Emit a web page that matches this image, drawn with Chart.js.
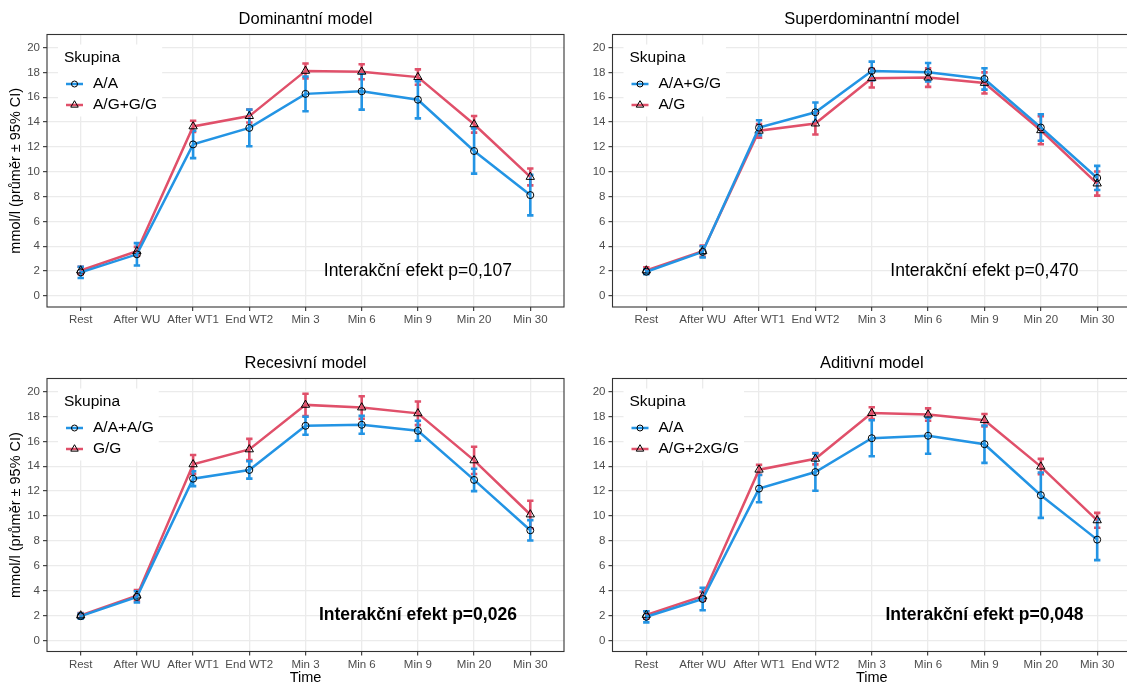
<!DOCTYPE html>
<html>
<head>
<meta charset="utf-8">
<script src="https://cdn.jsdelivr.net/npm/chart.js@4.4.1/dist/chart.umd.min.js"></script>
<style>
  html, body { margin: 0; padding: 0; background: #fff; width: 1127px; height: 682px; overflow: hidden; }
  canvas { position: absolute; }
</style>
</head>
<body>
<canvas id="dom" width="570" height="330" style="left:0;top:0"></canvas>
<canvas id="sup" width="574" height="330" style="left:563px;top:0"></canvas>
<canvas id="rec" width="570" height="347" style="left:0;top:340px"></canvas>
<canvas id="add" width="574" height="347" style="left:563px;top:340px"></canvas>
<script>
// categories and axis ticks
var timeLabels = ["Rest", "After WU", "After WT1", "End WT2", "Min 3", "Min 6", "Min 9", "Min 20", "Min 30"];
var yTickValues = [0, 1, 2, 3, 4, 5, 6, 7, 8, 9, 10, 11, 12, 13, 14, 15, 16, 17, 18, 19, 20];

// Dominantní model
var domAA = [1.9, 3.35, 12.2, 13.53, 16.27, 16.48, 15.8, 11.67, 8.12];
var domAAci = [0.45, 0.9, 1.1, 1.48, 1.4, 1.48, 1.5, 1.82, 1.63];
var domAGGG = [2.05, 3.6, 13.65, 14.48, 18.12, 18.05, 17.62, 13.82, 9.58];
var domAGGGci = [0.3, 0.35, 0.45, 0.52, 0.6, 0.6, 0.62, 0.67, 0.68];

// Superdominantní model
var supAAGG = [1.95, 3.55, 13.55, 14.79, 18.12, 18.01, 17.47, 13.56, 9.5];
var supAAGGci = [0.2, 0.45, 0.6, 0.78, 0.75, 0.75, 0.86, 1.07, 0.97];
var supAG = [2.05, 3.6, 13.3, 13.88, 17.53, 17.58, 17.15, 13.34, 9.05];
var supAGci = [0.25, 0.45, 0.55, 0.88, 0.75, 0.75, 0.85, 1.13, 0.97];

// Recesivní model
var recAAAG = [1.95, 3.5, 13.0, 13.7, 17.25, 17.33, 16.85, 12.9, 8.85];
var recAAAGci = [0.2, 0.45, 0.6, 0.7, 0.72, 0.72, 0.8, 0.9, 0.82];
var recGG = [2.0, 3.6, 14.15, 15.35, 18.93, 18.72, 18.25, 14.47, 10.12];
var recGGci = [0.2, 0.45, 0.75, 0.85, 0.9, 0.9, 0.95, 1.1, 1.1];

// Aditivní model
var addAA = [1.9, 3.33, 12.2, 13.53, 16.25, 16.45, 15.77, 11.67, 8.1];
var addAAci = [0.45, 0.9, 1.1, 1.5, 1.45, 1.45, 1.5, 1.82, 1.65];
var addAG2GG = [2.05, 3.55, 13.72, 14.6, 18.27, 18.15, 17.7, 13.97, 9.65];
var addAG2GGci = [0.3, 0.35, 0.4, 0.45, 0.47, 0.5, 0.5, 0.62, 0.6];

var BLUE = "#2394E4";
var RED = "#E0506A";
var FONT = '"Liberation Sans", Arial, sans-serif';

function series(label, values, ci, color, shape, radius) {
  return {
    label: label,
    data: values.map(function (v, i) { return { x: i, y: v }; }),
    ci: ci,
    borderColor: color,
    backgroundColor: color,
    borderWidth: 2.5,
    pointStyle: shape,
    pointRadius: radius,
    pointBorderColor: "#000",
    pointBorderWidth: 1,
    pointBackgroundColor: "rgba(0,0,0,0)",
    tension: 0
  };
}

// error bars, border, legend, title and note
function panelDecor(p) {
  return {
    id: "panelDecor",
    beforeDatasetsDraw: function (chart) {
      var ctx = chart.ctx, xs = chart.scales.x, ys = chart.scales.y;
      ctx.save();
      ctx.lineWidth = 2.6;
      for (var d = chart.data.datasets.length - 1; d >= 0; d--) {
        var ds = chart.data.datasets[d];
        ctx.strokeStyle = ds.borderColor;
        ds.data.forEach(function (pt, j) {
          var x = xs.getPixelForValue(pt.x);
          var yHi = ys.getPixelForValue(pt.y + ds.ci[j]);
          var yLo = ys.getPixelForValue(pt.y - ds.ci[j]);
          ctx.beginPath();
          ctx.moveTo(x, yHi); ctx.lineTo(x, yLo);
          ctx.moveTo(x - 3.2, yHi); ctx.lineTo(x + 3.2, yHi);
          ctx.moveTo(x - 3.2, yLo); ctx.lineTo(x + 3.2, yLo);
          ctx.stroke();
        });
      }
      ctx.restore();
    },
    afterDraw: function (chart) {
      var ctx = chart.ctx, ca = chart.chartArea;
      var xs = chart.scales.x, ys = chart.scales.y;
      ctx.save();

      // panel border
      ctx.strokeStyle = "#333333";
      ctx.lineWidth = 1.1;
      ctx.strokeRect(ca.left, ca.top, ca.right - ca.left, ca.bottom - ca.top);

      // legend
      var lx = ca.left + 17;
      ctx.font = "15.5px " + FONT;
      var maxW = 0;
      chart.data.datasets.forEach(function (ds) { maxW = Math.max(maxW, ctx.measureText(ds.label).width); });
      ctx.fillStyle = "#fff";
      ctx.fillRect(ca.left + 11, ca.top + 10, maxW + 40, 72);
      ctx.fillStyle = "#000";
      ctx.textAlign = "left";
      ctx.textBaseline = "middle";
      ctx.fillText("Skupina", lx, ca.top + 23.5);
      chart.data.datasets.forEach(function (ds, k) {
        var y = ca.top + 49.5 + k * 21;
        ctx.strokeStyle = ds.borderColor;
        ctx.lineWidth = 2.5;
        ctx.beginPath(); ctx.moveTo(lx + 2, y); ctx.lineTo(lx + 19, y); ctx.stroke();
        ctx.strokeStyle = "#000";
        ctx.fillStyle = "rgba(0,0,0,0)";
        ctx.lineWidth = 1;
        Chart.helpers.drawPoint(ctx, { pointStyle: ds.pointStyle, radius: ds.pointRadius - 0.5, borderWidth: 1 }, lx + 10.5, y);
        ctx.fillStyle = "#000";
        ctx.fillText(ds.label, lx + 29, y);
      });

      // panel title
      ctx.textAlign = "center";
      ctx.font = "16.5px " + FONT;
      ctx.fillText(p.title, (ca.left + ca.right) / 2, ca.top - 15.5);

      // interaction note
      ctx.font = (p.bold ? "bold " : "") + "17.5px " + FONT;
      ctx.fillText(p.note, xs.getPixelForValue(6), ys.getPixelForValue(2));
      ctx.restore();
    }
  };
}

function buildChart(id, p) {
  return new Chart(document.getElementById(id), {
    type: "line",
    data: { datasets: p.datasets },
    options: {
      responsive: false,
      animation: false,
      layout: { padding: p.pad },
      plugins: { legend: { display: false }, tooltip: { enabled: false } },
      scales: {
        x: {
          type: "linear",
          min: -0.6,
          max: 8.6,
          afterBuildTicks: function (s) {
            s.ticks = timeLabels.map(function (t, i) { return { value: i }; });
          },
          afterFit: function (s) { s.height = p.xh; },
          ticks: {
            autoSkip: false,
            maxRotation: 0,
            padding: 2,
            color: "#4D4D4D",
            font: { family: FONT, size: 11.5 },
            callback: function (v) { return timeLabels[v]; }
          },
          grid: { color: "#EBEBEB", lineWidth: 1.3, tickLength: 4, tickColor: "#333333", tickWidth: 1.1 },
          border: { display: false },
          title: {
            display: p.showTime,
            text: "Time",
            color: "#000",
            font: { family: FONT, size: 14.5 },
            padding: { top: 0, bottom: 0 }
          }
        },
        y: {
          min: -0.89,
          max: 21.05,
          afterBuildTicks: function (s) {
            s.ticks = yTickValues.map(function (v) { return { value: v }; });
          },
          afterFit: function (s) { s.width = p.yw; },
          ticks: {
            padding: 3,
            color: "#4D4D4D",
            font: { family: FONT, size: 11.5 },
            callback: function (v) { return v % 2 === 0 ? String(v) : ""; }
          },
          grid: {
            color: function (c) { return c.tick && c.tick.value % 2 ? "#F3F3F3" : "#EBEBEB"; },
            lineWidth: function (c) { return c.tick && c.tick.value % 2 ? 1 : 1.3; },
            tickLength: 4,
            tickWidth: 1.1,
            tickColor: function (c) { return c.tick && c.tick.value % 2 ? "rgba(0,0,0,0)" : "#333333"; }
          },
          border: { display: false },
          title: {
            display: p.showY,
            text: "mmol/l (průměr ± 95% CI)",
            color: "#000",
            font: { family: FONT, size: 14.5 },
            padding: { top: 7, bottom: 0 }
          }
        }
      }
    },
    plugins: [panelDecor(p)]
  });
}

buildChart("dom", {
  title: "Dominantní model",
  note: "Interakční efekt p=0,107",
  bold: false,
  showY: true, showTime: false,
  yw: 47, xh: 20,
  pad: { top: 34.5, left: 0, right: 6, bottom: 3 },
  datasets: [
    series("A/A", domAA, domAAci, BLUE, "circle", 3.5),
    series("A/G+G/G", domAGGG, domAGGGci, RED, "triangle", 4.8)
  ]
});

buildChart("sup", {
  title: "Superdominantní model",
  note: "Interakční efekt p=0,470",
  bold: false,
  showY: false, showTime: false,
  yw: 49.5, xh: 20,
  pad: { top: 34.5, left: 0, right: 6, bottom: 3 },
  datasets: [
    series("A/A+G/G", supAAGG, supAAGGci, BLUE, "circle", 3.5),
    series("A/G", supAG, supAGci, RED, "triangle", 4.8)
  ]
});

buildChart("rec", {
  title: "Recesivní model",
  note: "Interakční efekt p=0,026",
  bold: true,
  showY: true, showTime: true,
  yw: 47, xh: 35.5,
  pad: { top: 38.5, left: 0, right: 6, bottom: 0 },
  datasets: [
    series("A/A+A/G", recAAAG, recAAAGci, BLUE, "circle", 3.5),
    series("G/G", recGG, recGGci, RED, "triangle", 4.8)
  ]
});

buildChart("add", {
  title: "Aditivní model",
  note: "Interakční efekt p=0,048",
  bold: true,
  showY: false, showTime: true,
  yw: 49.5, xh: 35.5,
  pad: { top: 38.5, left: 0, right: 6, bottom: 0 },
  datasets: [
    series("A/A", addAA, addAAci, BLUE, "circle", 3.5),
    series("A/G+2xG/G", addAG2GG, addAG2GGci, RED, "triangle", 4.8)
  ]
});
</script>
</body>
</html>
